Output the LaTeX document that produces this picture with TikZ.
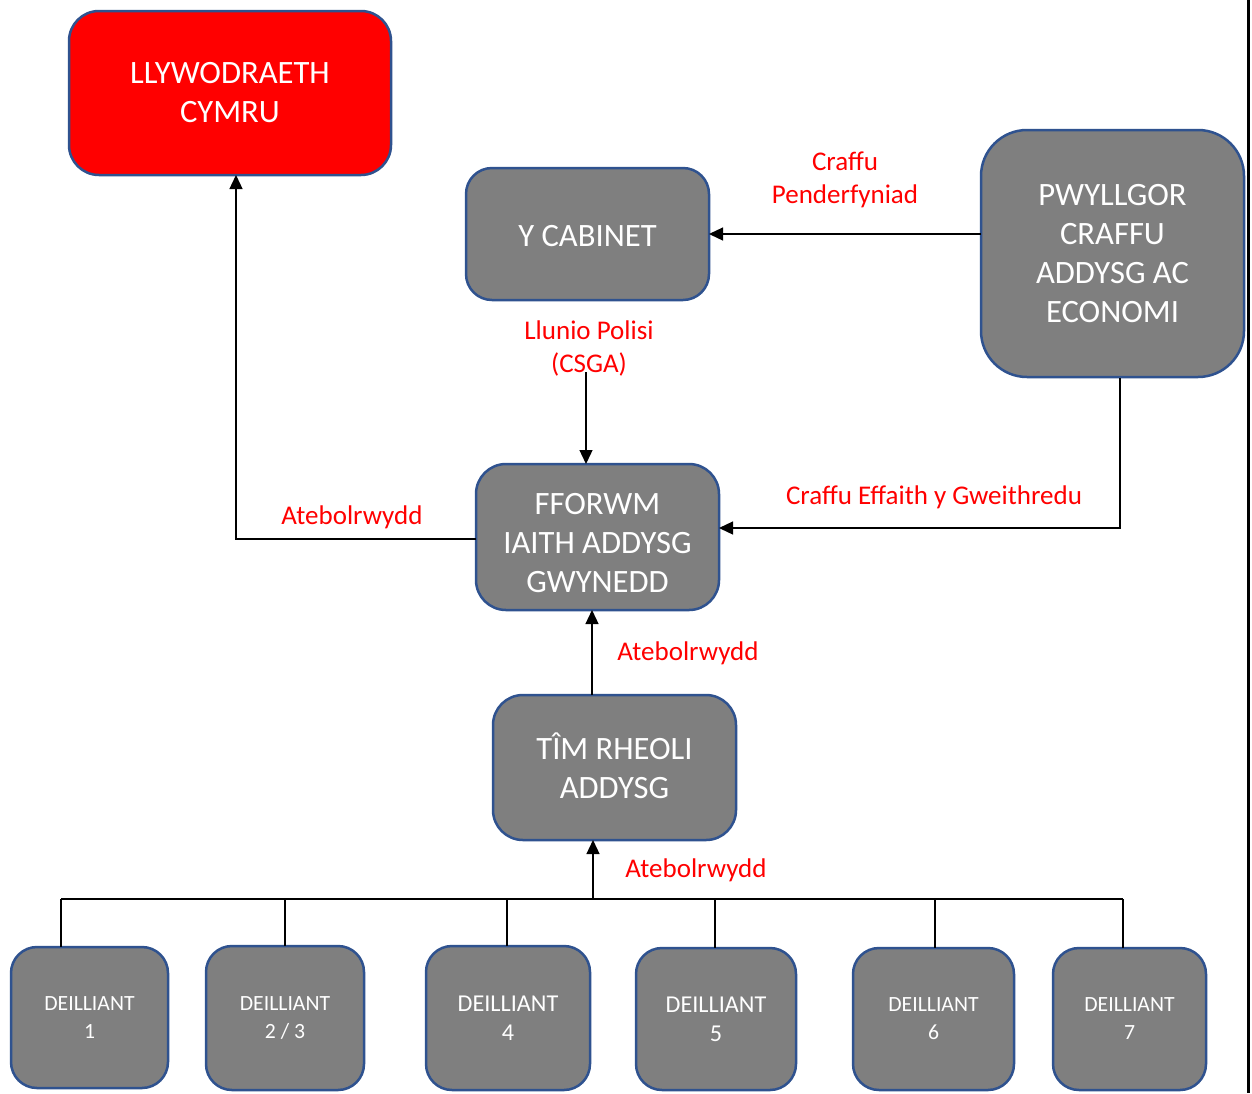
\documentclass[tikz,border=0pt]{standalone}
\usepackage{fontspec}
\setmainfont{Carlito}
\usetikzlibrary{arrows.meta}
\definecolor{boxgray}{HTML}{7F7F7F}
\definecolor{boxblue}{HTML}{2F528F}
\definecolor{lblred}{HTML}{FF0000}
\tikzset{
  orgbox/.style={rectangle, rounded corners=#1, fill=boxgray, draw=boxblue, line width=2.5pt,
    text=white, align=center, inner sep=0pt, outer sep=0pt},
  orgbox/.default=28pt,
  bigtxt/.style={font=\fontsize{32.6}{39}\selectfont},
  smalltxt/.style={font=\fontsize{21.7}{28}\selectfont},
  midtxt/.style={font=\fontsize{24.2}{29}\selectfont},
  lbl/.style={text=lblred, font=\fontsize{27}{33}\selectfont, align=center, inner sep=0pt},
  conn/.style={draw=black, line width=1.3pt},
  arr/.style={conn, -{Triangle[length=14pt,width=13pt]}},
}
\begin{document}
\begin{tikzpicture}[x=1pt,y=-1pt]
\useasboundingbox (0,0) rectangle (1252,1093);
\fill[white] (0,0) rectangle (1252,1093);
% page edge line at right
\coordinate (edgeT) at (1248.5,0);
\coordinate (edgeB) at (1248.5,1093);
\draw[line width=3pt] (edgeT) -- (edgeB);

% main boxes
\node[orgbox=30pt, fill=lblred, bigtxt, minimum width=322pt, minimum height=164pt] (gov) at (230,93) {LLYWODRAETH\\CYMRU};
\node[orgbox=26pt, bigtxt, minimum width=243pt, minimum height=132pt] (cab) at (587.5,234) {\rule{0pt}{25pt}Y CABINET};
\node[orgbox=46pt, bigtxt, minimum width=263pt, minimum height=247pt] (pwy) at (1112.5,253.5) {PWYLLGOR\\CRAFFU\\ADDYSG AC\\ECONOMI};
\node[orgbox=30pt, bigtxt, minimum width=243pt, minimum height=146pt] (ffo) at (597.5,537) {\rule{0pt}{33pt}FFORWM\\IAITH ADDYSG\\GWYNEDD};
\node[orgbox=30pt, bigtxt, minimum width=243pt, minimum height=145pt] (tim) at (614.5,767.5) {TÎM RHEOLI\\ADDYSG\rule[-4pt]{0pt}{4pt}};

% outcome boxes
\node[orgbox=26pt, smalltxt, minimum width=157pt, minimum height=141pt] (d1) at (89.5,1017.5) {DEILLIANT\\1};
\node[orgbox=26pt, smalltxt, minimum width=158pt, minimum height=144pt] (d2) at (285,1018) {DEILLIANT\\2 / 3};
\node[orgbox=26pt, midtxt, minimum width=164pt, minimum height=144pt] (d4) at (508,1018) {DEILLIANT\\4};
\node[orgbox=26pt, midtxt, minimum width=160pt, minimum height=142pt] (d5) at (716,1019) {DEILLIANT\\5};
\node[orgbox=26pt, smalltxt, minimum width=161pt, minimum height=142pt] (d6) at (933.5,1019) {DEILLIANT\\6};
\node[orgbox=26pt, smalltxt, minimum width=153pt, minimum height=142pt] (d7) at (1129.5,1019) {DEILLIANT\\7};

% labels
\node[lbl] (lcraffu) at (845,180) {Craffu\\Penderfyniad};
\node[lbl] (lllunio) at (589,348) {Llunio Polisi\\(CSGA)};
\node[lbl] (leffaith) at (934,497) {Craffu Effaith y Gweithredu};
\node[lbl] (late1) at (352,517) {Atebolrwydd};
\node[lbl] (late2) at (688,653) {Atebolrwydd};
\node[lbl] (late3) at (696,870) {Atebolrwydd};

% connectors
\draw[arr] (pwy.west |- cab.east) -- (cab.east);
\coordinate (llstart) at (586,372);
\draw[arr] (llstart) -- (llstart |- ffo.north);
\coordinate (pwybot) at (1120,378);
\coordinate (effcorner) at (1120,528);
\draw[arr] (pwybot) -- (effcorner) -- (effcorner -| ffo.east);
\coordinate (atecorner) at (236,539);
\draw[arr] (atecorner -| ffo.west) -- (atecorner) -- (atecorner |- gov.south);
\draw[arr] (tim.north -| 592,0) -- (ffo.south -| 592,0);

% bus
\coordinate (bus) at (593,899);
\coordinate (b1) at (61,899);
\coordinate (b2) at (285,899);
\coordinate (b4) at (507,899);
\coordinate (b5) at (715,899);
\coordinate (b6) at (935,899);
\coordinate (b7) at (1123,899);
\draw[conn] (b1) -- (b7);
\draw[conn] (b1) -- (b1 |- d1.north);
\draw[conn] (b2) -- (b2 |- d2.north);
\draw[conn] (b4) -- (b4 |- d4.north);
\draw[conn] (b5) -- (b5 |- d5.north);
\draw[conn] (b6) -- (b6 |- d6.north);
\draw[conn] (b7) -- (b7 |- d7.north);
\draw[arr] (bus) -- (bus |- tim.south);
\end{tikzpicture}
\end{document}
